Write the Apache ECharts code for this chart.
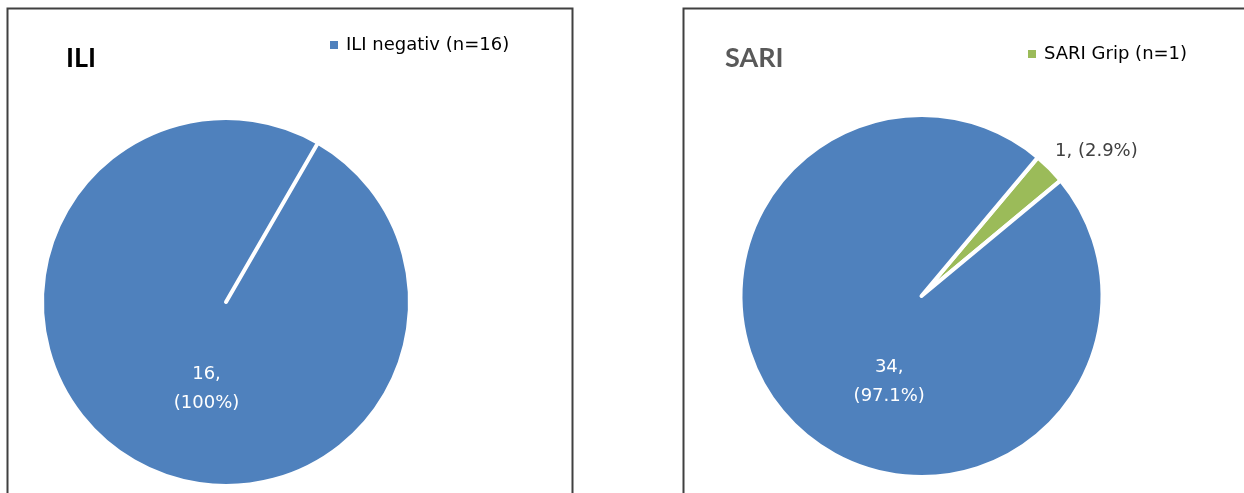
<!DOCTYPE html>
<html>
<head>
<meta charset="utf-8">
<title>ILI / SARI</title>
<script src="https://cdn.jsdelivr.net/npm/echarts@6/dist/echarts.min.js"></script>
<style>
  html, body { margin: 0; padding: 0; background: #fff; }
  #main { width: 1244px; height: 493px; }
</style>
</head>
<body>
<div id="main"></div>
<script type="text/javascript">
// --- data ---
var iliNames = ['ILI negativ (n=16)', 'ILI Grip (n=0)'];
var iliValues = [16, 0];
var sariNames = ['SARI Grip (n=1)', 'SARI negativ (n=34)'];
var sariValues = [1, 34];
var legendIli = ['ILI negativ (n=16)'];
var legendSari = ['SARI Grip (n=1)'];

var BLUE = '#4F81BD', GREEN = '#9BBB59';
var LBL = 'DejaVu Sans';

var chart = echarts.init(document.getElementById('main'));

// label nudges (dx,dy) per series/item, Excel puts them a bit off the mid angle
var nudge = [
  [{dx: 28, dy: 5}, {}],
  [{dx: -4, dy: -13}, {dx: 34, dy: 20}]
];

function items(names, values, colors, labels) {
  var out = [];
  for (var i = 0; i < names.length; i++) {
    out.push({
      name: names[i],
      value: values[i],
      itemStyle: { color: colors[i] },
      label: labels[i]
    });
  }
  return out;
}

var insideLbl = {
  show: true, position: 'inside', color: '#fff',
  fontFamily: LBL, fontSize: 18, lineHeight: 29,
  formatter: '{c},\n({d}%)'
};

chart.setOption({
  animation: false,
  title: [
    { text: 'ILI', left: 66, top: 45, padding: 0,
      textStyle: { fontFamily: 'Lato', fontWeight: 'bold', fontSize: 27, color: '#000' } },
    { text: 'SARI', left: 725, top: 45, padding: 0,
      textStyle: { fontFamily: 'Lato', fontWeight: 'bold', fontSize: 27, color: '#595959' } }
  ],
  legend: [
    { data: legendIli, left: 328, top: 36, padding: 0, icon: 'rect',
      itemWidth: 10, itemHeight: 10, selectedMode: false,
      textStyle: { fontFamily: LBL, fontSize: 18, color: '#000', padding: [0, 0, 0, 2] } },
    { data: legendSari, left: 1026, top: 45, padding: 0, icon: 'rect',
      itemWidth: 10, itemHeight: 10, selectedMode: false,
      textStyle: { fontFamily: LBL, fontSize: 18, color: '#000', padding: [0, 0, 0, 2] } }
  ],
  graphic: [
    { type: 'rect', shape: { x: 7.5, y: 8.5, width: 565, height: 500 }, silent: true,
      style: { fill: 'none', stroke: '#404040', lineWidth: 2 } },
    { type: 'rect', shape: { x: 683.5, y: 8.5, width: 600, height: 500 }, silent: true,
      style: { fill: 'none', stroke: '#404040', lineWidth: 2 } }
  ],
  series: [
    {
      type: 'pie',
      center: [226, 302],
      radius: [0, 184],
      startAngle: 60,
      clockwise: true,
      avoidLabelOverlap: false,
      percentPrecision: 1,
      itemStyle: { borderColor: '#fff', borderWidth: 4 },
      emphasis: { disabled: true },
      labelLine: { show: false },
      labelLayout: function (p) { return nudge[0][p.dataIndex]; },
      data: items(iliNames, iliValues, [BLUE, BLUE], [insideLbl, { show: false }])
    },
    {
      type: 'pie',
      center: [921.5, 296],
      radius: [0, 181],
      startAngle: 50,
      clockwise: true,
      avoidLabelOverlap: false,
      percentPrecision: 1,
      itemStyle: { borderColor: '#fff', borderWidth: 4 },
      emphasis: { disabled: true },
      labelLine: { show: false, length: 6, length2: 0 },
      labelLayout: function (p) { return nudge[1][p.dataIndex]; },
      data: items(sariNames, sariValues, [GREEN, BLUE], [
        { show: true, position: 'outside', color: '#404040', fontFamily: LBL, fontSize: 18,
          formatter: '{c}, ({d}%)' },
        insideLbl
      ])
    }
  ]
});
</script>
</body>
</html>
